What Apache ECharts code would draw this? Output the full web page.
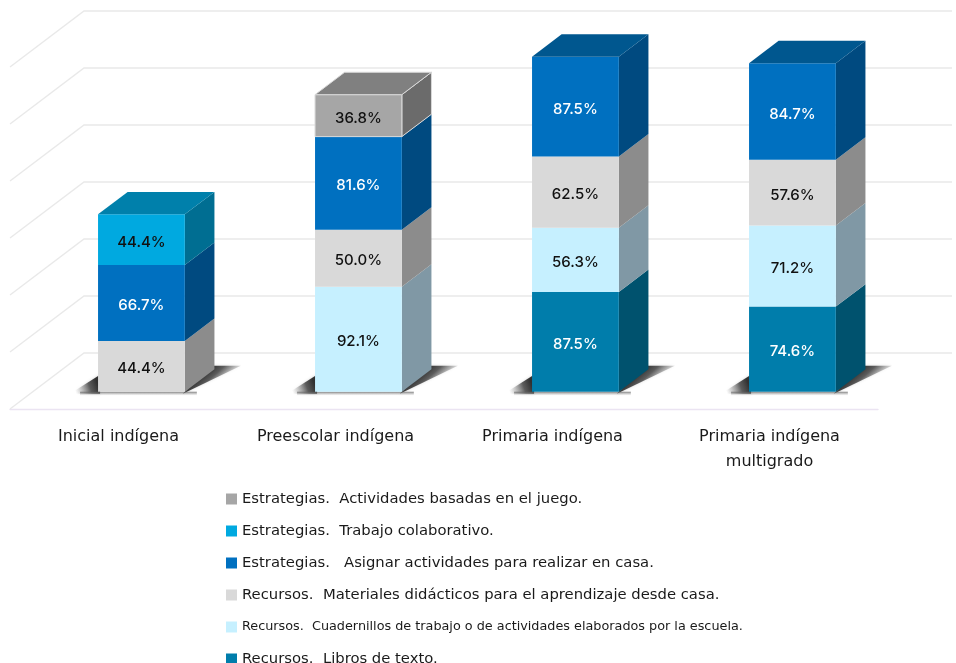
<!DOCTYPE html>
<html>
<head>
<meta charset="utf-8">
<title>Estrategias y recursos</title>
<style>
  html, body { margin: 0; padding: 0; background: #fff; }
  #chart { width: 956px; height: 663px; }
</style>
<script src="https://cdn.jsdelivr.net/npm/echarts@6/dist/echarts.min.js"></script>
</head>
<body>
<div id="chart"></div>
<script>
const categories = ["Inicial indígena", "Preescolar indígena", "Primaria indígena", "Primaria indígena\nmultigrado"];
const yTicks = [0, 50, 100, 150, 200, 250, 300];

// de abajo hacia arriba, igual que la pila
const libros = [null, null, 87.5, 74.6];
const cuadernillos = [null, 92.1, 56.3, 71.2];
const materiales = [44.4, 50.0, 62.5, 57.6];
const asignar = [66.7, 81.6, 87.5, 84.7];
const trabajo = [44.4, null, null, null];
const juego = [null, 36.8, null, null];

const stackSeries = [
  { name: "Recursos.  Libros de texto.", values: libros, front: "#007dab", side: "#00526e", top: "#006a90", text: "#fff" },
  { name: "Recursos.  Cuadernillos de trabajo o de actividades elaborados por la escuela.", values: cuadernillos, front: "#c6f0ff", side: "#8098a5", top: "#9fc0cc", text: "#111" },
  { name: "Recursos.  Materiales didácticos para el aprendizaje desde casa.", values: materiales, front: "#d9d9d9", side: "#8c8c8c", top: "#a8a8a8", text: "#111" },
  { name: "Estrategias.   Asignar actividades para realizar en casa.", values: asignar, front: "#0070c0", side: "#004a80", top: "#00578f", text: "#fff" },
  { name: "Estrategias.  Trabajo colaborativo.", values: trabajo, front: "#00a9e0", side: "#006e92", top: "#0080ab", text: "#111" },
  { name: "Estrategias.  Actividades basadas en el juego.", values: juego, front: "#a6a6a6", side: "#6b6b6b", top: "#808080", text: "#111", stroke: "#d9d9d9" },
];

// proyección: t = 0 plano frontal del piso, t = 1 pared del fondo
const depthX = 74;
const depthY = -56;
const barT0 = 0.31;
const barT1 = 0.71;
const project = (p, t) => [p[0] + t * depthX, p[1] + t * depthY];

const renderWall = (params, api) => {
  const value = api.value(0);
  const c = params.coordSys;
  const left = api.coord([0, value]);
  const front = [c.x, left[1]];
  const back = project(front, 1);
  const backEnd = [c.x + c.width + depthX, back[1]];
  return {
    type: "polyline",
    silent: true,
    shape: { points: [front, back, backEnd] },
    style: { fill: null, stroke: "#e9e9e9", lineWidth: 1.4 },
  };
};

const fade = (x, y, x2, y2) => ({
  type: "linear",
  global: true,
  x: x,
  y: y,
  x2: x2,
  y2: y2,
  colorStops: [
    { offset: 0, color: "rgba(40,40,40,0.95)" },
    { offset: 0.35, color: "rgba(60,60,60,0.8)" },
    { offset: 1, color: "rgba(150,150,150,0)" },
  ],
});

const renderShadow = (params, api) => {
  const p = api.coord([api.value(0), 0]);
  const w = api.size([1, 0])[0] * 0.4;
  const f = project(p, barT0);
  const x1 = f[0] - w / 2;
  const x2 = f[0] + w / 2;
  const y0 = f[1];
  const soft = { shadowColor: "rgba(120,120,120,0.35)", shadowBlur: 3 };
  return {
    type: "group",
    silent: true,
    children: [
      {
        type: "polygon",
        shape: { points: [[x1 + 2, y0 + 2], [x1 - 28, y0 + 2], [x1 + 2, y0 - 17]] },
        style: { fill: fade(x1, y0 - 6, x1 - 22, y0 + 2), ...soft },
      },
      {
        type: "polygon",
        shape: { points: [[x2 - 2, y0 + 2], [x2 + 56, y0 - 26], [x2 + 26, y0 - 26]] },
        style: { fill: fade(x2 + 14, y0 - 14, x2 + 30, y0 + 4), ...soft },
      },
      {
        type: "rect",
        shape: { x: x1 - 18, y: y0, width: w + 30, height: 4 },
        style: {
          fill: {
            type: "linear",
            x: 0,
            y: 0,
            x2: 0,
            y2: 1,
            colorStops: [
              { offset: 0, color: "rgba(90,90,90,0.8)" },
              { offset: 1, color: "rgba(160,160,160,0)" },
            ],
          },
        },
      },
    ],
  };
};

const renderSegment = (s) => (params, api) => {
  const cat = api.value(0);
  const w = api.size([1, 0])[0] * 0.4;
  const fb = project(api.coord([cat, api.value(1)]), barT0);
  const ft = project(api.coord([cat, api.value(2)]), barT0);
  const bb = project(api.coord([cat, api.value(1)]), barT1);
  const bt = project(api.coord([cat, api.value(2)]), barT1);
  const x1 = fb[0] - w / 2;
  const x2 = fb[0] + w / 2;
  const bx2 = bb[0] + w / 2;
  const bx1 = bb[0] - w / 2;
  const line = s.stroke ? { stroke: s.stroke, lineWidth: 1 } : {};
  const children = [
    {
      type: "polygon",
      shape: { points: [[x2, fb[1]], [x2, ft[1]], [bx2, bt[1]], [bx2, bb[1]]] },
      style: { fill: s.side, ...line },
    },
    {
      type: "rect",
      shape: { x: x1, y: ft[1], width: w, height: fb[1] - ft[1] },
      style: { fill: s.front, ...line },
    },
  ];
  if (api.value(4)) {
    children.push({
      type: "polygon",
      shape: { points: [[x1, ft[1]], [x2, ft[1]], [bx2, bt[1]], [bx1, bt[1]]] },
      style: { fill: s.top, ...line },
    });
  }
  children.push({
    type: "text",
    style: {
      text: api.value(3).toFixed(1) + "%",
      x: fb[0],
      y: (fb[1] + ft[1]) / 2 + 2.5,
      align: "center",
      verticalAlign: "middle",
      fill: s.text,
      font: "500 15px Inter, sans-serif",
    },
  });
  return { type: "group", children };
};

// arma [categoría, base, tope, valor, esTope] acumulando de abajo hacia arriba
const buildStack = () => {
  const totals = categories.map(() => 0);
  return stackSeries.map((s, i) =>
    s.values
      .map((v, c) => {
        if (v === null) return null;
        const base = totals[c];
        totals[c] += v;
        const isTop = stackSeries.slice(i + 1).every((o) => o.values[c] === null);
        return [c, base, totals[c], v, isTop ? 1 : 0];
      })
      .filter((d) => d)
  );
};
const stackData = buildStack();

const option = {
  animation: false,
  backgroundColor: "#fff",
  textStyle: { fontFamily: "DejaVu Sans, sans-serif" },
  grid: { left: 10, right: 78, top: 67, bottom: 254 },
  xAxis: {
    type: "category",
    data: categories,
    axisLine: { lineStyle: { color: "#ebe4f2", width: 1.4 } },
    axisTick: { show: false },
    axisLabel: { color: "#1a1a1a", fontFamily: "DejaVu Sans, sans-serif", fontSize: 16, lineHeight: 25, margin: 15 },
  },
  yAxis: {
    type: "value",
    min: 0,
    max: 300,
    interval: 50,
    axisLine: { show: false },
    axisTick: { show: false },
    axisLabel: { show: false },
    splitLine: { show: false },
  },
  legend: {
    orient: "vertical",
    left: 221,
    top: 485,
    height: 220,
    itemWidth: 11,
    itemHeight: 11,
    itemGap: 14,
    icon: "rect",
    selectedMode: false,
    textStyle: { color: "#1a1a1a", fontFamily: "DejaVu Sans, sans-serif", fontSize: 14.8, height: 18, lineHeight: 18 },
    data: stackSeries
      .slice()
      .reverse()
      .map((s) => (s.values === cuadernillos
        ? { name: s.name, textStyle: { fontSize: 12.8, height: 18, lineHeight: 18, color: "#1a1a1a", fontFamily: "DejaVu Sans, sans-serif" } }
        : { name: s.name })),
  },
  series: [
    {
      type: "custom",
      coordinateSystem: "cartesian2d",
      renderItem: renderWall,
      data: yTicks.map((t) => [t]),
      encode: { y: 0 },
      z: 1,
      clip: false,
      silent: true,
    },
    {
      type: "custom",
      renderItem: renderShadow,
      data: categories.map((c, i) => [i]),
      encode: { x: 0 },
      z: 2,
      clip: false,
      silent: true,
    },
    ...stackSeries.map((s, i) => ({
      name: s.name,
      type: "custom",
      renderItem: renderSegment(s),
      data: stackData[i],
      encode: { x: 0, y: 2 },
      itemStyle: { color: s.front },
      z: 3 + i,
      clip: false,
    })),
  ],
};

echarts.init(document.getElementById("chart")).setOption(option);
</script>
</body>
</html>
